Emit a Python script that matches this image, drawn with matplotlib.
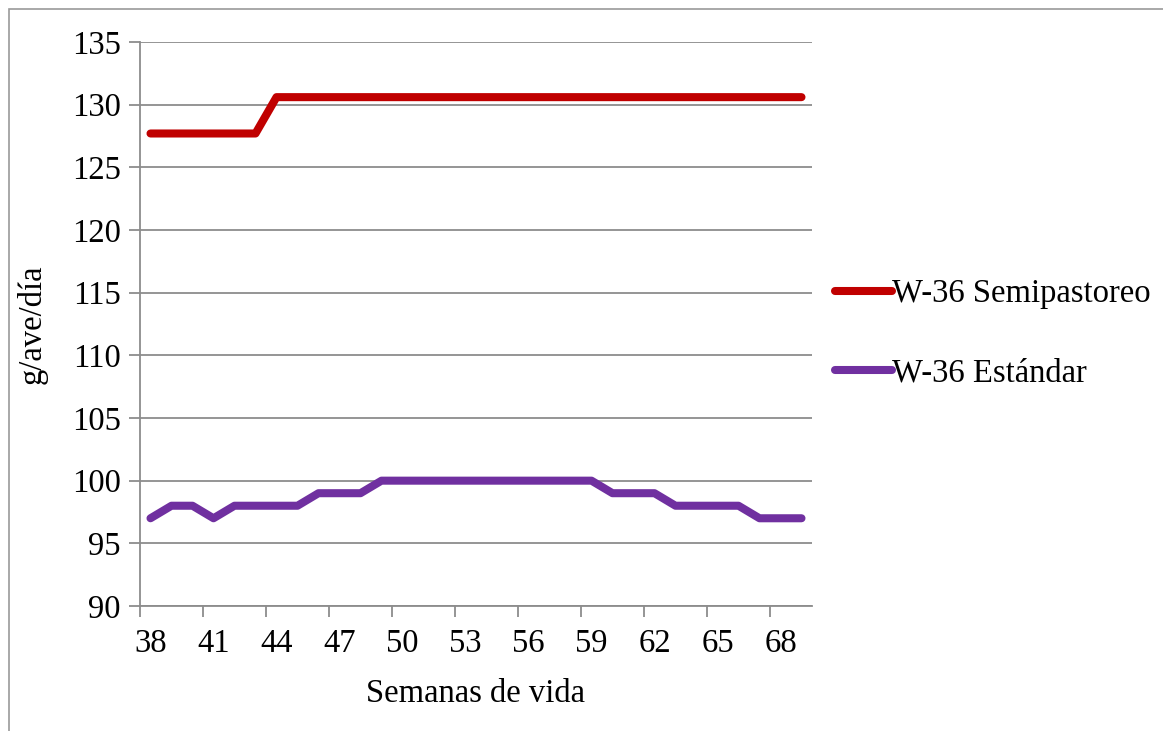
import matplotlib.pyplot as plt
from matplotlib.patches import Rectangle
import numpy as np

plt.rcParams['font.family'] = ['Liberation Serif', 'DejaVu Serif']

# Semanas de vida 38..69
weeks = list(range(38, 70))
semipastoreo = [127.7] * 6 + [130.6] * 26
estandar = [97, 98, 98, 97, 98, 98, 98, 98, 99, 99, 99,
            100, 100, 100, 100, 100, 100, 100, 100, 100, 100, 100,
            99, 99, 99, 98, 98, 98, 98, 97, 97, 97]

x = np.arange(len(weeks))
fs = 23.5

fig = plt.figure(figsize=(11.63, 7.31), dpi=100)
ax = fig.add_axes([140 / 1163, 1 - 606 / 731, 672 / 1163, 564 / 731])

grid_c = '#8c8c8c'
ax.plot(x, semipastoreo, color='#C00000', lw=5.8, solid_capstyle='round',
        solid_joinstyle='round', label='W-36 Semipastoreo', zorder=3)
ax.plot(x, estandar, color='#7030A0', lw=5.8, solid_capstyle='round',
        solid_joinstyle='round', label='W-36 Estándar', zorder=3)

ax.set_xlim(-0.5, len(weeks) - 0.5)
ax.set_ylim(90, 135)
ax.set_yticks(np.arange(90, 136, 5))
ax.yaxis.grid(True, color=grid_c, lw=1.3)
ax.set_axisbelow(True)

# category labels every 3 weeks, tick marks on category boundaries
ax.set_xticks(x[::3])
ax.set_xticklabels([str(w) for w in weeks[::3]])
ax.set_xticks(np.arange(-0.5, len(weeks) - 1, 3), minor=True)
ax.tick_params(axis='x', which='major', length=0, pad=16, labelsize=fs)
ax.tick_params(axis='x', which='minor', length=8, width=1.3, color=grid_c)
ax.tick_params(axis='y', length=8, width=1.3, color=grid_c, pad=6, labelsize=fs)

for s in ['top', 'right']:
    ax.spines[s].set_visible(False)
for s in ['left', 'bottom']:
    ax.spines[s].set_color(grid_c)
    ax.spines[s].set_linewidth(1.3)

ax.set_ylabel('g/ave/día', fontsize=fs, labelpad=17)
ax.set_xlabel('Semanas de vida', fontsize=fs, labelpad=14)

ax.legend(loc='center left', bbox_to_anchor=(1.034, 0.483), frameon=False,
          fontsize=fs, handlelength=1.75, handletextpad=0.0, labelspacing=1.5,
          borderaxespad=0, borderpad=0)

# outer chart border
fig.patches.append(Rectangle((9 / 1163, -0.1), 1.2, 1 - 9 / 731 + 0.1,
                             transform=fig.transFigure, fill=False,
                             edgecolor='#9a9a9a', lw=1.2))

fig.savefig('out.png', dpi=100)
